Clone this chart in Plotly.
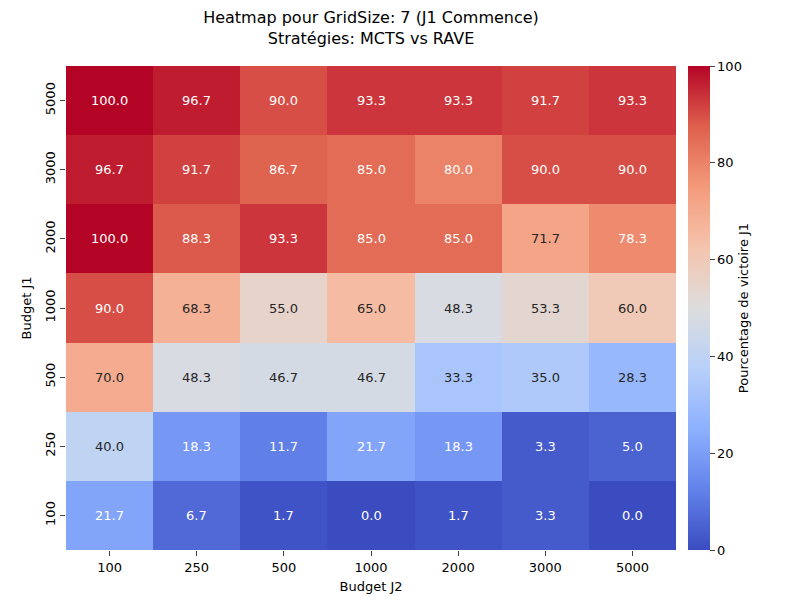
import plotly.graph_objects as go

budget_j2 = ["100", "250", "500", "1000", "2000", "3000", "5000"]
budget_j1 = ["100", "250", "500", "1000", "2000", "3000", "5000"]

# rows follow budget_j1 (bottom to top)
win_pct = [
    [21.7, 6.7, 1.7, 0.0, 1.7, 3.3, 0.0],
    [40.0, 18.3, 11.7, 21.7, 18.3, 3.3, 5.0],
    [70.0, 48.3, 46.7, 46.7, 33.3, 35.0, 28.3],
    [90.0, 68.3, 55.0, 65.0, 48.3, 53.3, 60.0],
    [100.0, 88.3, 93.3, 85.0, 85.0, 71.7, 78.3],
    [96.7, 91.7, 86.7, 85.0, 80.0, 90.0, 90.0],
    [100.0, 96.7, 90.0, 93.3, 93.3, 91.7, 93.3],
]

coolwarm = [
    [0.0, "rgb(59,76,192)"],
    [0.125, "rgb(98,130,234)"],
    [0.25, "rgb(141,176,254)"],
    [0.375, "rgb(184,208,249)"],
    [0.5, "rgb(221,221,221)"],
    [0.625, "rgb(245,196,173)"],
    [0.75, "rgb(244,154,123)"],
    [0.875, "rgb(222,96,77)"],
    [1.0, "rgb(180,4,38)"],
]

xi = list(range(len(budget_j2)))
yi = list(range(len(budget_j1)))

fig = go.Figure(
    go.Heatmap(
        z=win_pct,
        x=xi,
        y=yi,
        colorscale=coolwarm,
        zmin=0,
        zmax=100,
        colorbar=dict(
            title=dict(text="Pourcentage de victoire J1", side="right", font=dict(size=13)),
            thickness=22,
            len=1,
            y=0.5,
            x=1.02,
            xpad=0,
            ypad=0,
            outlinewidth=0,
            tickvals=[0, 20, 40, 60, 80, 100],
            ticks="outside",
            tickfont=dict(size=13),
        ),
    )
)

annotations = []
for i, row in enumerate(win_pct):
    for j, v in enumerate(row):
        annotations.append(
            dict(
                x=j,
                y=i,
                text=f"{v:.1f}",
                showarrow=False,
                font=dict(size=13, color="white" if v < 25 or v > 75 else "#262626"),
            )
        )

fig.update_layout(
    width=800,
    height=600,
    margin=dict(l=58, r=132, t=58, b=58),
    plot_bgcolor="white",
    paper_bgcolor="white",
    font=dict(family="DejaVu Sans", color="black", size=13),
    title=dict(
        text="Heatmap pour GridSize: 7 (J1 Commence)<br>Stratégies: MCTS vs RAVE",
        x=0.5,
        xanchor="center",
        xref="paper",
        y=0.975,
        font=dict(size=16),
    ),
    xaxis=dict(
        title=dict(text="Budget J2", standoff=8, font=dict(size=13)),
        ticks="outside",
        tickvals=xi,
        ticktext=budget_j2,
        range=[-0.5, 6.5],
        showgrid=False,
        zeroline=False,
    ),
    yaxis=dict(
        title=dict(text="Budget J1", standoff=8, font=dict(size=13)),
        ticks="outside",
        tickangle=-90,
        tickvals=yi,
        ticktext=budget_j1,
        range=[-0.5, 6.5],
        showgrid=False,
        zeroline=False,
    ),
    annotations=annotations,
)

fig.write_html("out.html")
